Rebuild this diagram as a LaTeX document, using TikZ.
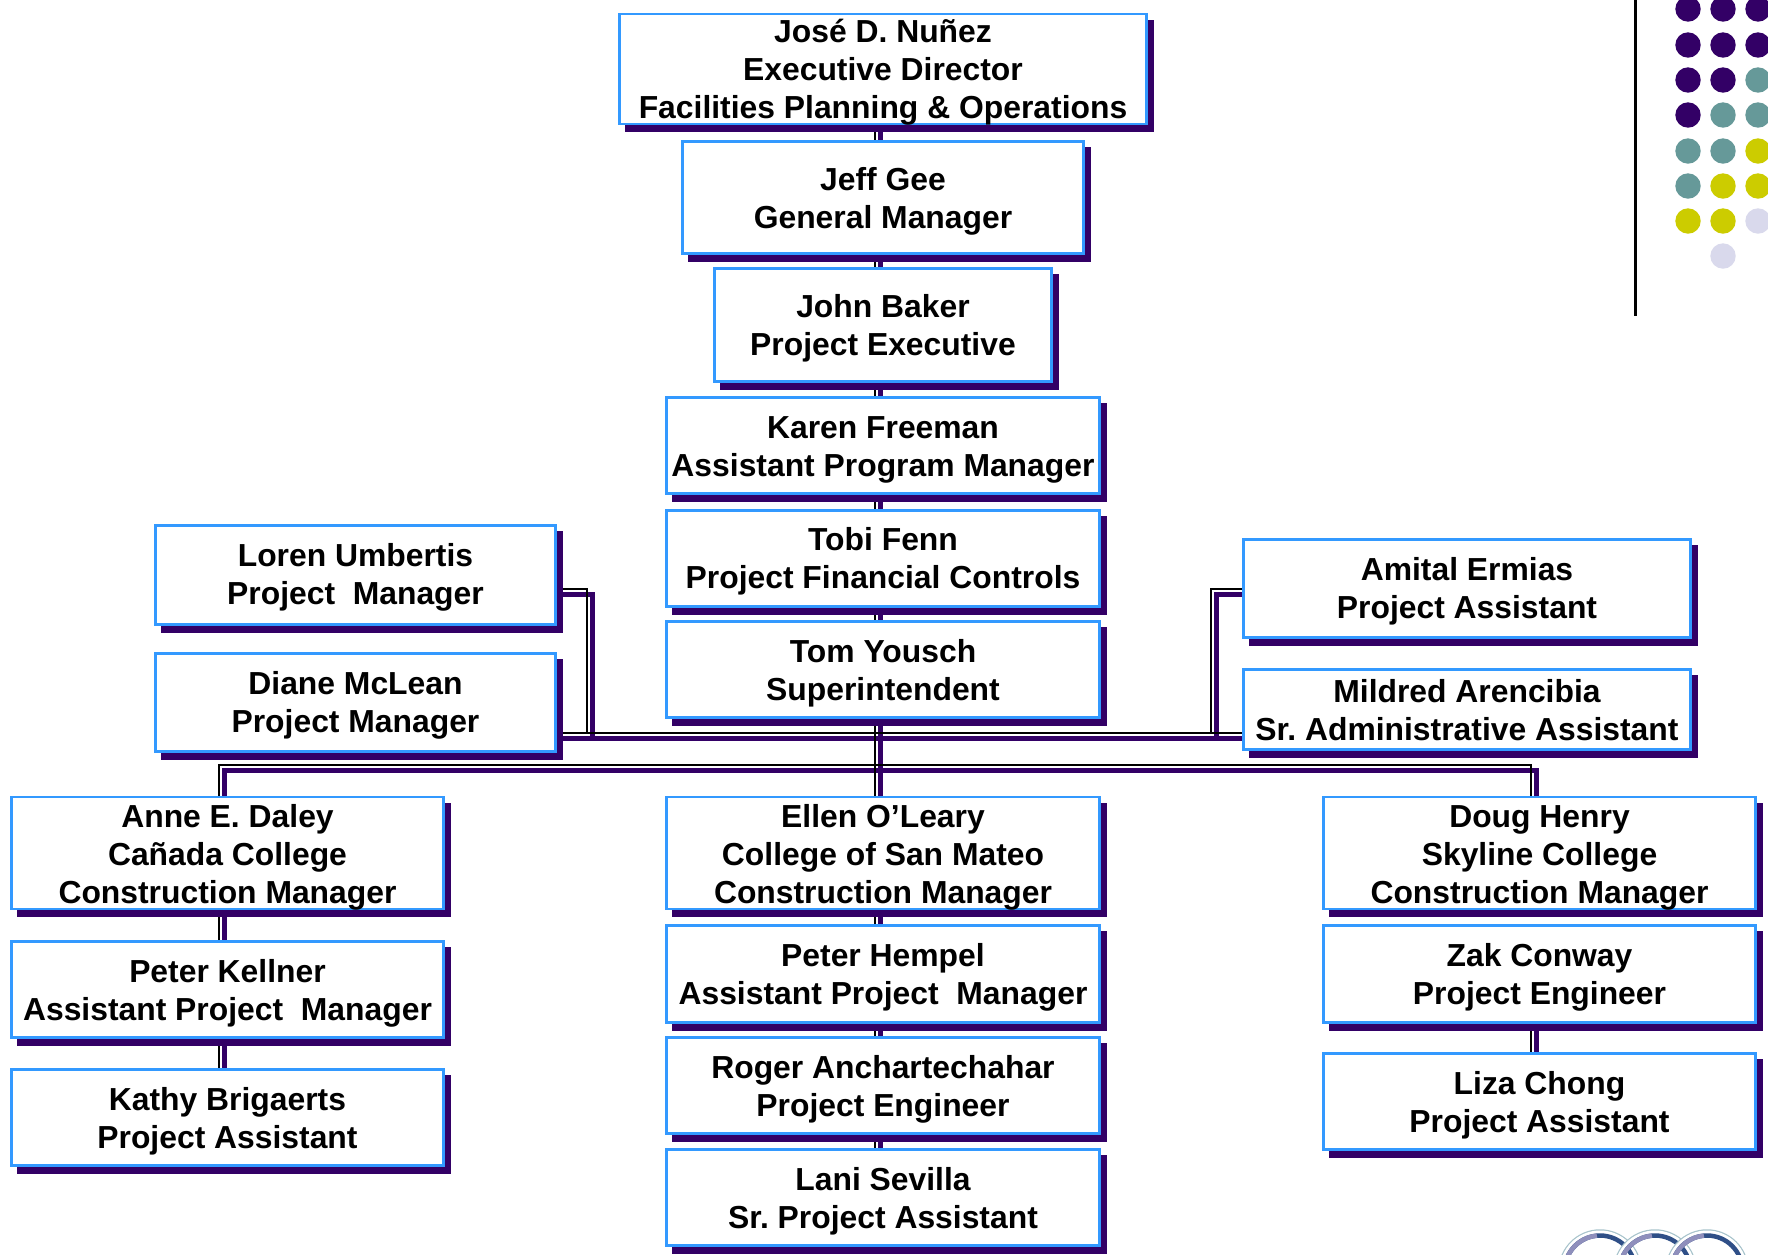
\documentclass[tikz,border=0pt]{standalone}
\usepackage{fontspec}
\setmainfont{Liberation Sans}
\usetikzlibrary{backgrounds}
\definecolor{pur}{HTML}{330066}
\definecolor{bluebox}{HTML}{3399FF}
\definecolor{teal2}{HTML}{669999}
\definecolor{yel}{HTML}{CCCC00}
\definecolor{lav}{HTML}{D9D9EC}
\definecolor{ringout}{HTML}{A8C4CC}
\definecolor{ringnavy}{HTML}{2F4F87}
\definecolor{ringlav}{HTML}{8F8FBC}
\tikzset{
  orgbox/.style={draw=bluebox,line width=2.5pt,fill=white,align=center,inner xsep=0pt,inner ysep=-6pt,
    font=\bfseries\frenchspacing\fontsize{31.85}{38}\selectfont},
  blklink/.style={draw=black,line width=2pt},
  purlink/.style={draw=pur,line width=5pt}
}
\newcommand{\tstrut}{\rule{0pt}{31pt}}
\newcommand{\tstrutup}{\rule{0pt}{29pt}}
\newcommand{\bstrut}{\rule[-8pt]{0pt}{8pt}}
\newcommand{\orgnode}[7]{\node[orgbox,minimum width=#5-#4-1pt,minimum height=#7-#6-1pt] (#1) at ({(#4+#5)/2},{(#6+#7)/2}) {\tstrut #2\\#3\bstrut};}
\newcommand{\orgnodeup}[7]{\node[orgbox,minimum width=#5-#4-1pt,minimum height=#7-#6-1pt] (#1) at ({(#4+#5)/2},{(#6+#7)/2}) {\tstrutup #2\\#3\bstrut};}
\begin{document}
\begin{tikzpicture}[x=1pt,y=-1pt]
\useasboundingbox (0,0) rectangle (1768,1254);
\clip (0,0) rectangle (1768,1254);

% nodes
\node[orgbox,minimum width=527pt,minimum height=110pt] (jose) at (883,69) {\tstrut José D. Nuñez\\Executive Director\\Facilities Planning \& Operations\bstrut};
\orgnode{jeff}{Jeff Gee}{General Manager}{682}{1084}{141}{254}
\orgnode{john}{John Baker}{Project Executive}{714}{1052}{268}{382}
\orgnode{karen}{Karen Freeman}{Assistant Program Manager}{666}{1100}{397}{494}
\orgnodeup{tobi}{Tobi Fenn}{Project Financial Controls}{666}{1100}{510}{607}
\orgnode{tom}{Tom Yousch}{Superintendent}{666}{1100}{621}{718}
\orgnodeup{loren}{Loren Umbertis}{Project\ \ Manager}{155}{556}{525}{625}
\orgnodeup{diane}{Diane McLean}{Project Manager}{155}{556}{653}{752}
\orgnodeup{amital}{Amital Ermias}{Project Assistant}{1243}{1691}{539}{638}
\orgnode{mildred}{Mildred Arencibia}{Sr. Administrative Assistant}{1243}{1691}{669}{750}
\node[orgbox,minimum width=432pt,minimum height=112pt] (anne) at (227.5,853) {\rule{0pt}{33pt}Anne E. Daley\\Cañada College\\Construction Manager\bstrut};
\orgnode{kellner}{Peter Kellner}{Assistant Project\ \ Manager}{11}{444}{941}{1038}
\orgnode{kathy}{Kathy Brigaerts}{Project Assistant}{11}{444}{1069}{1166}
\node[orgbox,minimum width=433pt,minimum height=112pt] (ellen) at (883,853) {\rule{0pt}{33pt}Ellen O’Leary\\College of San Mateo\\Construction Manager\bstrut};
\orgnode{hempel}{Peter Hempel}{Assistant Project\ \ Manager}{666}{1100}{925}{1023}
\orgnode{roger}{Roger Anchartechahar}{Project Engineer}{666}{1100}{1037}{1134}
\orgnode{lani}{Lani Sevilla}{Sr. Project Assistant}{666}{1100}{1149}{1246}
\node[orgbox,minimum width=432pt,minimum height=112pt] (doug) at (1539.5,853) {\rule{0pt}{33pt}Doug Henry\\Skyline College\\Construction Manager\bstrut};
\orgnode{zak}{Zak Conway}{Project Engineer}{1323}{1756}{925}{1023}
\orgnode{liza}{Liza Chong}{Project Assistant}{1323}{1756}{1053}{1150}

% junctions
\coordinate (hbus) at (875,733);
\coordinate (lbusL) at (219,765);
\coordinate (lbusR) at (1531,765);
\coordinate (jL) at (587,589);
\coordinate (jR) at (1211,589);

\begin{scope}[on background layer]
\fill[white] (0,0) rectangle (1768,1254);
% connectors
\foreach \ox/\oy/\sty in {5/5.5/purlink,0/0/blklink}{
  \foreach \a/\b in {jose/jeff,jeff/john,john/karen,karen/tobi,tobi/tom,tom/ellen,ellen/hempel,hempel/roger,roger/lani}{
    \path[\sty] ([shift={(\ox-8,\oy)}]\a.south) -- ([shift={(\ox-8,\oy)}]\b.north);
  }
  \path[\sty] ([shift={(\ox,\oy)}]diane.east |- hbus) -- ([shift={(\ox,\oy)}]mildred.west |- hbus);
  \path[\sty] ([shift={(\ox,\oy)}]loren.east |- jL) -- ([shift={(\ox,\oy)}]jL) -- ([shift={(\ox,\oy)}]jL |- hbus);
  \path[\sty] ([shift={(\ox,\oy)}]amital.west |- jR) -- ([shift={(\ox,\oy)}]jR) -- ([shift={(\ox,\oy)}]jR |- hbus);
  \path[\sty] ([shift={(\ox,\oy)}]lbusL |- anne.north) -- ([shift={(\ox,\oy)}]lbusL) -- ([shift={(\ox,\oy)}]lbusR) -- ([shift={(\ox,\oy)}]lbusR |- doug.north);
  \path[\sty] ([shift={(\ox,\oy)}]lbusL |- anne.south) -- ([shift={(\ox,\oy)}]lbusL |- kellner.north);
  \path[\sty] ([shift={(\ox,\oy)}]lbusL |- kellner.south) -- ([shift={(\ox,\oy)}]lbusL |- kathy.north);
  \path[\sty] ([shift={(\ox,\oy)}]lbusR |- zak.south) -- ([shift={(\ox,\oy)}]lbusR |- liza.north);
}
% box shadows
\foreach \n in {jose,jeff,john,karen,tobi,tom,loren,diane,amital,mildred,anne,kellner,kathy,ellen,hempel,roger,lani,doug,zak,liza}{
  \fill[pur] ([shift={(6.5,7)}]\n.south west) rectangle ([shift={(6.5,7)}]\n.north east);
}
\end{scope}

% decoration: rule and dots
\draw[black,line width=3pt] (1635,0) -- (1635,316);
\foreach \cx/\cy/\c in {
 1688/9/pur,1723/9/pur,1758/9/pur,
 1688/45/pur,1723/45/pur,1758/45/pur,
 1688/80/pur,1723/80/pur,1758/80/teal2,
 1688/115/pur,1723/115/teal2,1758/115/teal2,
 1688/151/teal2,1723/151/teal2,1758/151/yel,
 1688/186/teal2,1723/186/yel,1758/186/yel,
 1688/221/yel,1723/221/yel,1758/221/lav,
 1723/256/lav}{
  \fill[\c] (\cx,\cy) circle[radius=12.7];
}

% logo rings
\foreach \cx in {1600,1655,1707}{
  \draw[ringout,line width=1.5pt] (\cx,1271) circle[radius=41];
  \draw[white,line width=3pt] (\cx,1271) circle[radius=39];
  \draw[ringnavy,line width=4.5pt] (\cx,1271) circle[radius=35.5];
  \draw[ringlav,line width=4.5pt] (\cx,1271) ++(200:35.5) arc[start angle=200,end angle=265,radius=35.5];
}
\end{tikzpicture}
\end{document}
